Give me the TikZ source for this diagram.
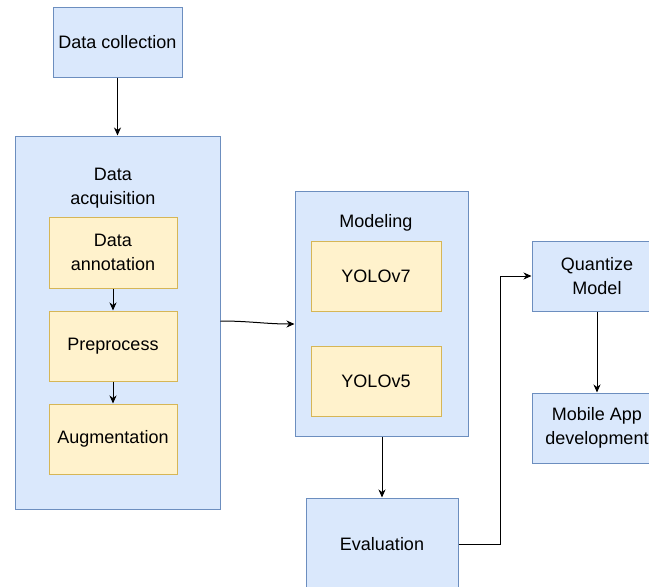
\documentclass[tikz,border=0pt]{standalone}
\usepackage{fontspec}
\setmainfont{Liberation Sans}
\usetikzlibrary{arrows.meta,calc}

\definecolor{bluefill}{HTML}{DAE8FC}
\definecolor{bluedraw}{HTML}{6C8EBF}
\definecolor{yellowfill}{HTML}{FFF2CC}
\definecolor{yellowdraw}{HTML}{D6B656}

\tikzset{
  base/.style={rectangle, line width=1pt, inner sep=0pt, align=center,
    font=\fontsize{18}{24}\selectfont, text=black},
  bluebox/.style={base, fill=bluefill, draw=bluedraw},
  yellowbox/.style={base, fill=yellowfill, draw=yellowdraw},
  lbl/.style={inner sep=0pt, align=center, font=\fontsize{18}{24}\selectfont, text=black},
  link/.style={line width=1pt, black, -{Stealth[length=8pt,width=7pt,inset=2.5pt]}}
}

\begin{document}
\begin{tikzpicture}[x=1pt,y=-1pt]
  \clip (0,0) rectangle (649,587);
  \fill[white] (0,0) rectangle (649,587);

  % first stage
  \node[bluebox, minimum width=129pt, minimum height=70pt] (dc) at (117.5,42) {Data collection};

  % data acquisition group
  \node[bluebox, minimum width=205pt, minimum height=373pt] (acq) at (117.5,322.5) {};
  \node[lbl] (acqlbl) at (113,188) {Data\\acquisition};
  \node[yellowbox, minimum width=128pt, minimum height=71pt] (ann) at (113,252.5) {Data\\annotation};
  \node[yellowbox, minimum width=128pt, minimum height=70pt] (pre) at (113,346) {Preprocess};
  \node[yellowbox, minimum width=128pt, minimum height=70pt] (aug) at (113,439) {Augmentation};

  % modeling group
  \node[bluebox, minimum width=173pt, minimum height=245pt] (mod) at (381.5,313.5) {};
  \node[lbl] (modlbl) at (376,223) {Modeling};
  \node[yellowbox, minimum width=130pt, minimum height=70pt] (y7) at (376,276) {YOLOv7};
  \node[yellowbox, minimum width=130pt, minimum height=70pt] (y5) at (376,381) {YOLOv5};

  % later stages
  \node[bluebox, minimum width=152pt, minimum height=92pt] (ev) at (382,544) {Evaluation};
  \node[bluebox, minimum width=130pt, minimum height=70pt] (qm) at (597,276) {Quantize\\Model};
  \node[bluebox, minimum width=130pt, minimum height=70pt] (mad) at (597,428) {Mobile App\\development};

  % connectors
  \draw[link] (dc.south) -- (acq.north);
  \draw[link] (ann.south) -- (pre.north);
  \draw[link] (pre.south) -- (aug.north);
  \draw[link] ($(acq.east)+(0,-1.5)$) to[out=0,in=180] ($(mod.west)+(0,10.5)$);
  \draw[link] (mod.south -| ev.north) -- (ev.north);
  \draw[link] (ev.east) -- ++(42,0) |- (qm.west);
  \draw[link] (qm.south) -- (mad.north);
\end{tikzpicture}
\end{document}
